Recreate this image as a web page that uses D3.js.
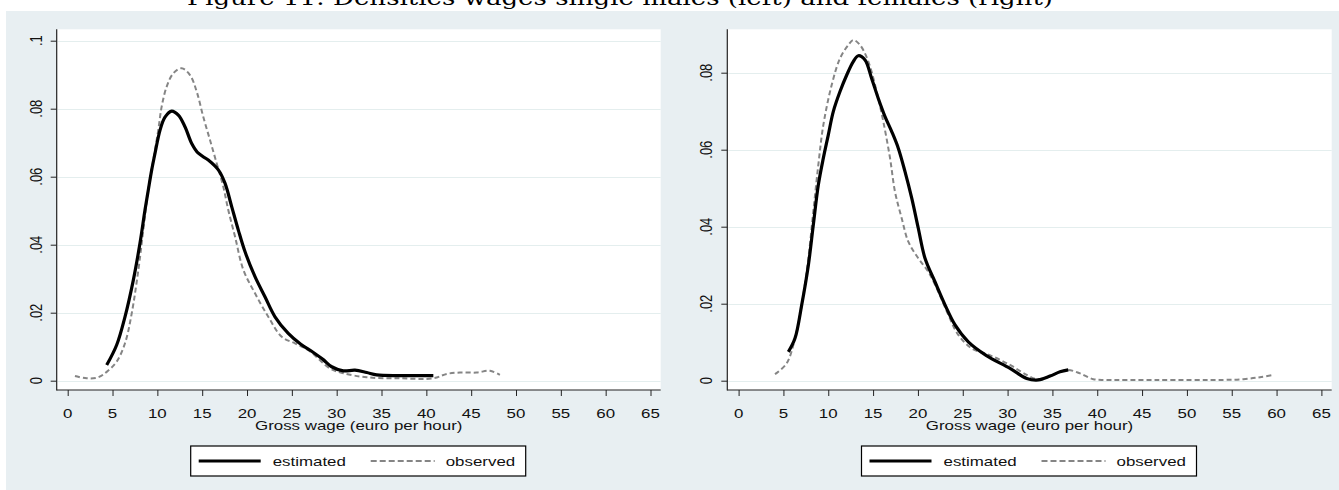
<!DOCTYPE html>
<html>
<head>
<meta charset="utf-8">
<script src="https://cdn.jsdelivr.net/npm/d3@7/dist/d3.min.js"></script>
<style>
  html, body { margin: 0; padding: 0; background: #ffffff; }
  svg { display: block; }
</style>
</head>
<body>
<svg id="chart" width="1339" height="490"></svg>
<script>
// ---------------- data ----------------
const figureTitle = "Figure 11: Densities wages single males (left) and females (right)";
const xAxisTitle = "Gross wage (euro per hour)";
const legendLabels = ["estimated", "observed"];

const xTickValues = [0, 5, 10, 15, 20, 25, 30, 35, 40, 45, 50, 55, 60, 65];
const leftYTickValues = [0, 0.02, 0.04, 0.06, 0.08, 0.1];
const leftYTickLabels = ["0", ".02", ".04", ".06", ".08", ".1"];
const rightYTickValues = [0, 0.02, 0.04, 0.06, 0.08];
const rightYTickLabels = ["0", ".02", ".04", ".06", ".08"];

// males, estimated
const maleEstX = [4.35, 5.46, 6.39, 7.32, 8.06, 8.62, 8.99, 9.37, 9.74, 10.3, 10.85, 11.6, 12.34, 13.08, 13.83, 14.57, 15.68, 16.8, 17.54, 18.29, 19.03, 19.78, 20.89, 22.0, 23.12, 24.6, 26.0, 27.4, 28.5, 29.44, 30.74, 32.04, 33.35, 34.46, 37.06, 40.78];
const maleEstY = [0.0046, 0.0105, 0.0188, 0.0296, 0.0404, 0.0502, 0.0561, 0.062, 0.0669, 0.0737, 0.0775, 0.0793, 0.0781, 0.0747, 0.0698, 0.0669, 0.0649, 0.062, 0.0581, 0.0512, 0.0443, 0.0379, 0.0306, 0.0247, 0.0188, 0.0139, 0.0107, 0.0083, 0.0062, 0.0041, 0.0029, 0.0031, 0.0024, 0.0017, 0.0015, 0.0015];
// males, observed
const maleObsX = [0.81, 2.12, 3.41, 4.35, 5.46, 6.39, 7.14, 7.88, 8.43, 8.99, 9.55, 10.1, 10.48, 11.04, 11.78, 12.71, 13.64, 14.39, 15.12, 15.87, 16.62, 17.35, 17.91, 18.66, 19.59, 20.89, 22.37, 23.87, 25.35, 26.84, 29.25, 30.74, 33.35, 37.06, 40.78, 42.27, 43.75, 45.6, 47.1, 48.2];
const maleObsY = [0.0014, 0.0007, 0.001, 0.0026, 0.0056, 0.011, 0.0198, 0.0326, 0.0443, 0.0561, 0.0649, 0.0737, 0.0806, 0.0865, 0.0904, 0.0919, 0.0899, 0.085, 0.0776, 0.0708, 0.0639, 0.0571, 0.0502, 0.0424, 0.0326, 0.0257, 0.0188, 0.0129, 0.011, 0.009, 0.0036, 0.0022, 0.001, 0.0007, 0.0007, 0.002, 0.0024, 0.0024, 0.0029, 0.0017];

// females, estimated
const femaleEstX = [5.55, 6.29, 7.04, 7.78, 8.33, 8.89, 9.45, 10.0, 10.56, 11.31, 12.06, 12.79, 13.35, 14.1, 14.84, 15.58, 16.33, 17.08, 17.81, 18.56, 19.31, 20.04, 20.79, 21.9, 23.02, 24.14, 25.62, 27.6, 30.27, 32.13, 33.43, 34.73, 35.85, 36.77];
const femaleEstY = [0.0075, 0.011, 0.0197, 0.030, 0.0404, 0.0508, 0.0578, 0.0638, 0.0699, 0.0751, 0.0794, 0.0829, 0.0844, 0.0833, 0.0785, 0.0733, 0.0686, 0.0647, 0.0604, 0.0543, 0.0474, 0.0396, 0.0318, 0.0257, 0.0197, 0.0145, 0.0101, 0.0066, 0.0032, 0.0006, 0.0002, 0.0012, 0.0023, 0.0028];
// females, observed
const femaleObsX = [4.06, 5.36, 6.29, 7.04, 7.78, 8.33, 8.89, 9.45, 10.38, 11.31, 12.24, 12.79, 13.54, 14.47, 15.4, 16.14, 16.89, 17.44, 18.19, 18.93, 20.04, 21.16, 22.27, 23.39, 24.5, 26.0, 27.95, 30.27, 32.13, 33.25, 34.54, 35.85, 36.77, 38.08, 39.56, 41.05, 46.63, 54.06, 56.29, 58.15, 59.64];
const femaleObsY = [0.0017, 0.0045, 0.011, 0.0197, 0.0318, 0.0439, 0.056, 0.0664, 0.0768, 0.0837, 0.0872, 0.0885, 0.0872, 0.0829, 0.0751, 0.0673, 0.0578, 0.0491, 0.0422, 0.0361, 0.0318, 0.0283, 0.0231, 0.0171, 0.0119, 0.0084, 0.0067, 0.0041, 0.0015, 0.0004, 0.001, 0.0023, 0.0028, 0.0019, 0.0004, 0.0002, 0.0002, 0.0002, 0.0004, 0.0009, 0.0015];

// ---------------- drawing ----------------
const svg = d3.select("#chart");
const BG = "#e8eff2";
const GRID = "#e4eeee";
const FONT = "'Liberation Sans', Arial, sans-serif";
const SX = 1.3; // horizontal stretch of the original raster

// title (mostly cut off at top, as in the source)
svg.append("text")
  .attr("x", 187).attr("y", 5)
  .attr("font-family", "'DejaVu Serif', 'Liberation Serif', serif")
  .attr("font-size", 21)
  .attr("textLength", 866).attr("lengthAdjust", "spacingAndGlyphs")
  .attr("fill", "#000")
  .text(figureTitle);

// graph region background
svg.append("rect").attr("x", 6).attr("y", 11).attr("width", 1339 - 6).attr("height", 490 - 11).attr("fill", BG);

function drawPanel(cfg) {
  const g = svg.append("g");
  const x = d3.scaleLinear().domain([0, 65]).range([cfg.x0, cfg.x65]);
  const y = d3.scaleLinear().domain([0, cfg.yTop]).range([380.7, cfg.yTopPx]);

  // plot area
  g.append("rect").attr("x", cfg.left).attr("y", 29.3)
    .attr("width", cfg.right - cfg.left).attr("height", 390 - 29.3).attr("fill", "#ffffff");

  // gridlines
  g.selectAll(".grid").data(cfg.yTicks).enter().append("line")
    .attr("x1", cfg.left + 1).attr("x2", cfg.right)
    .attr("y1", d => Math.round(y(d)) + 0.5).attr("y2", d => Math.round(y(d)) + 0.5)
    .attr("stroke", GRID).attr("stroke-width", 1.2);

  // y axis
  const yAxis = d3.axisLeft(y).tickValues(cfg.yTicks).tickSize(6).tickFormat("");
  const ya = g.append("g").attr("transform", `translate(${cfg.left},0)`).call(yAxis);
  ya.select(".domain").remove();
  ya.selectAll(".tick line").attr("stroke", "#222");
  g.append("line").attr("x1", cfg.left).attr("x2", cfg.left).attr("y1", 29.3).attr("y2", 390.5)
    .attr("stroke", "#222").attr("stroke-width", 1.2);
  g.selectAll(".ylab").data(cfg.yTicks).enter().append("g")
    .attr("transform", (d) => `translate(${cfg.left - 21},${y(d)}) scale(${SX},1) rotate(-90)`)
    .append("text")
    .attr("text-anchor", "middle").attr("dy", "0.36em")
    .attr("font-family", FONT).attr("font-size", 13).attr("fill", "#111")
    .text((d, i) => cfg.yLabels[i]);

  // x axis
  const xAxis = d3.axisBottom(x).tickValues(xTickValues).tickSize(6).tickFormat("");
  const xa = g.append("g").attr("transform", `translate(0,390)`).call(xAxis);
  xa.select(".domain").remove();
  xa.selectAll(".tick line").attr("stroke", "#222");
  g.append("line").attr("x1", cfg.left).attr("x2", cfg.right).attr("y1", 390).attr("y2", 390)
    .attr("stroke", "#222").attr("stroke-width", 1.2);
  g.selectAll(".xlab").data(xTickValues).enter().append("g")
    .attr("transform", d => `translate(${x(d)},418) scale(${SX},1)`)
    .append("text")
    .attr("text-anchor", "middle")
    .attr("font-family", FONT).attr("font-size", 13).attr("fill", "#111")
    .text(d => d);

  // axis title
  const cx = (cfg.left + cfg.right) / 2;
  g.append("g").attr("transform", `translate(${cx},430) scale(${SX},1)`)
    .append("text").attr("text-anchor", "middle")
    .attr("font-family", FONT).attr("font-size", 13).attr("fill", "#111")
    .text(xAxisTitle);

  // curves
  const line = d3.line().x(d => x(d[0])).y(d => y(d[1])).curve(d3.curveCatmullRom.alpha(0.5));
  const obs = cfg.obsX.map((v, i) => [v, cfg.obsY[i]]);
  const est = cfg.estX.map((v, i) => [v, cfg.estY[i]]);
  g.append("path").datum(obs).attr("d", line)
    .attr("fill", "none").attr("stroke", "#858585").attr("stroke-width", 2)
    .attr("stroke-dasharray", "5,3");
  g.append("path").datum(est).attr("d", line)
    .attr("fill", "none").attr("stroke", "#000").attr("stroke-width", 3.2)
    .attr("stroke-linejoin", "round");

  // legend
  const lx = cx - 168;
  g.append("rect").attr("x", lx).attr("y", 446).attr("width", 335).attr("height", 30)
    .attr("fill", "#fff").attr("stroke", "#000").attr("stroke-width", 1.2);
  g.append("line").attr("x1", lx + 8).attr("x2", lx + 70).attr("y1", 461).attr("y2", 461)
    .attr("stroke", "#000").attr("stroke-width", 3.2);
  g.append("g").attr("transform", `translate(${lx + 82},466) scale(${SX},1)`)
    .append("text").attr("font-family", FONT).attr("font-size", 13).attr("fill", "#111")
    .text(legendLabels[0]);
  g.append("line").attr("x1", lx + 180).attr("x2", lx + 244).attr("y1", 461).attr("y2", 461)
    .attr("stroke", "#858585").attr("stroke-width", 2).attr("stroke-dasharray", "6,3");
  g.append("g").attr("transform", `translate(${lx + 255},466) scale(${SX},1)`)
    .append("text").attr("font-family", FONT).attr("font-size", 13).attr("fill", "#111")
    .text(legendLabels[1]);
}

drawPanel({
  left: 56.7, right: 660.7, x0: 67.7, x65: 650.5,
  yTop: 0.1, yTopPx: 40.7,
  yTicks: leftYTickValues, yLabels: leftYTickLabels,
  estX: maleEstX, estY: maleEstY, obsX: maleObsX, obsY: maleObsY
});
drawPanel({
  left: 727.3, right: 1331.7, x0: 738.6, x65: 1321.4,
  yTop: 0.08, yTopPx: 72.7,
  yTicks: rightYTickValues, yLabels: rightYTickLabels,
  estX: femaleEstX, estY: femaleEstY, obsX: femaleObsX, obsY: femaleObsY
});
</script>
</body>
</html>
